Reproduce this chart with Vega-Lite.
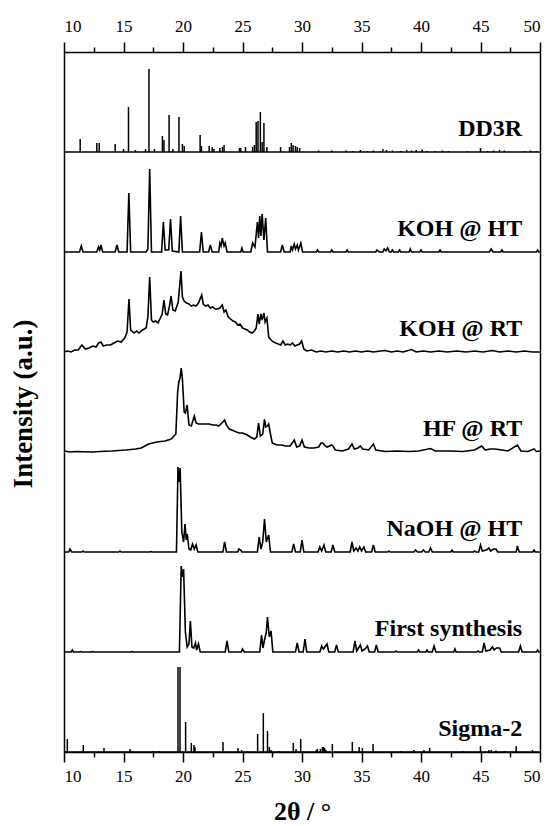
{
"$schema": "https://vega.github.io/schema/vega-lite/v6.json",
"padding": {"left": 9, "top": 17, "right": 0, "bottom": 0},
"config": {"view": {"stroke": null}, "font": "Liberation Serif",
 "axis": {"domainColor": "black", "domainWidth": 1.5, "tickColor": "black", "tickWidth": 1.5, "labelFont": "Liberation Serif", "labelFontSize": 17, "labelColor": "black", "grid": false, "titleFont": "Liberation Serif", "titleFontSize": 26, "titleFontWeight": "bold", "titleColor": "black"}},
"data": {"values": [
{"sample":"DD3R","kind":"label"},{"sample":"KOH @ HT","kind":"label"},{"sample":"KOH @ RT","kind":"label"},{"sample":"HF @ RT","kind":"label"},{"sample":"NaOH @ HT","kind":"label"},{"sample":"First synthesis","kind":"label"},{"sample":"Sigma-2","kind":"label"},
{"sample":"DD3R","kind":"curve","theta":10,"intensity":0},{"sample":"DD3R","kind":"curve","theta":50,"intensity":0},
{"sample":"Sigma-2","kind":"curve","theta":10,"intensity":0},{"sample":"Sigma-2","kind":"curve","theta":50,"intensity":0},
{"sample":"DD3R","kind":"stick","theta":11.36,"intensity":0.13},{"sample":"DD3R","kind":"stick","theta":12.76,"intensity":0.09},{"sample":"DD3R","kind":"stick","theta":12.96,"intensity":0.09},{"sample":"DD3R","kind":"stick","theta":14.3,"intensity":0.08},{"sample":"DD3R","kind":"stick","theta":15.0,"intensity":0.03},{"sample":"DD3R","kind":"stick","theta":15.42,"intensity":0.45},{"sample":"DD3R","kind":"stick","theta":16.0,"intensity":0.02},{"sample":"DD3R","kind":"stick","theta":16.85,"intensity":0.03},{"sample":"DD3R","kind":"stick","theta":17.14,"intensity":0.83},{"sample":"DD3R","kind":"stick","theta":17.6,"intensity":0.03},{"sample":"DD3R","kind":"stick","theta":18.27,"intensity":0.16},{"sample":"DD3R","kind":"stick","theta":18.4,"intensity":0.12},{"sample":"DD3R","kind":"stick","theta":18.83,"intensity":0.37},{"sample":"DD3R","kind":"stick","theta":19.15,"intensity":0.03},{"sample":"DD3R","kind":"stick","theta":19.66,"intensity":0.35},{"sample":"DD3R","kind":"stick","theta":19.95,"intensity":0.08},{"sample":"DD3R","kind":"stick","theta":20.1,"intensity":0.06},{"sample":"DD3R","kind":"stick","theta":21.44,"intensity":0.17},{"sample":"DD3R","kind":"stick","theta":21.55,"intensity":0.06},{"sample":"DD3R","kind":"stick","theta":22.2,"intensity":0.06},{"sample":"DD3R","kind":"stick","theta":22.45,"intensity":0.05},{"sample":"DD3R","kind":"stick","theta":22.6,"intensity":0.03},{"sample":"DD3R","kind":"stick","theta":23.1,"intensity":0.04},{"sample":"DD3R","kind":"stick","theta":23.32,"intensity":0.05},{"sample":"DD3R","kind":"stick","theta":23.45,"intensity":0.07},{"sample":"DD3R","kind":"stick","theta":24.75,"intensity":0.04},{"sample":"DD3R","kind":"stick","theta":24.85,"intensity":0.04},{"sample":"DD3R","kind":"stick","theta":25.25,"intensity":0.05},{"sample":"DD3R","kind":"stick","theta":25.85,"intensity":0.05},{"sample":"DD3R","kind":"stick","theta":26.0,"intensity":0.07},{"sample":"DD3R","kind":"stick","theta":26.15,"intensity":0.30},{"sample":"DD3R","kind":"stick","theta":26.3,"intensity":0.31},{"sample":"DD3R","kind":"stick","theta":26.5,"intensity":0.40},{"sample":"DD3R","kind":"stick","theta":26.65,"intensity":0.10},{"sample":"DD3R","kind":"stick","theta":26.8,"intensity":0.29},{"sample":"DD3R","kind":"stick","theta":27.05,"intensity":0.05},{"sample":"DD3R","kind":"stick","theta":28.2,"intensity":0.05},{"sample":"DD3R","kind":"stick","theta":28.95,"intensity":0.05},{"sample":"DD3R","kind":"stick","theta":29.1,"intensity":0.09},{"sample":"DD3R","kind":"stick","theta":29.25,"intensity":0.07},{"sample":"DD3R","kind":"stick","theta":29.45,"intensity":0.06},{"sample":"DD3R","kind":"stick","theta":29.6,"intensity":0.05},{"sample":"DD3R","kind":"stick","theta":29.8,"intensity":0.04},{"sample":"DD3R","kind":"stick","theta":31.4,"intensity":0.015},{"sample":"DD3R","kind":"stick","theta":32.5,"intensity":0.015},{"sample":"DD3R","kind":"stick","theta":33.7,"intensity":0.015},{"sample":"DD3R","kind":"stick","theta":34.3,"intensity":0.01},{"sample":"DD3R","kind":"stick","theta":34.9,"intensity":0.02},{"sample":"DD3R","kind":"stick","theta":35.5,"intensity":0.01},{"sample":"DD3R","kind":"stick","theta":36.0,"intensity":0.015},{"sample":"DD3R","kind":"stick","theta":36.6,"intensity":0.01},{"sample":"DD3R","kind":"stick","theta":36.8,"intensity":0.03},{"sample":"DD3R","kind":"stick","theta":37.1,"intensity":0.02},{"sample":"DD3R","kind":"stick","theta":37.6,"intensity":0.015},{"sample":"DD3R","kind":"stick","theta":38.3,"intensity":0.01},{"sample":"DD3R","kind":"stick","theta":38.8,"intensity":0.02},{"sample":"DD3R","kind":"stick","theta":39.2,"intensity":0.015},{"sample":"DD3R","kind":"stick","theta":39.6,"intensity":0.02},{"sample":"DD3R","kind":"stick","theta":40.1,"intensity":0.025},{"sample":"DD3R","kind":"stick","theta":40.5,"intensity":0.01},{"sample":"DD3R","kind":"stick","theta":41.2,"intensity":0.01},{"sample":"DD3R","kind":"stick","theta":41.8,"intensity":0.015},{"sample":"DD3R","kind":"stick","theta":42.3,"intensity":0.01},{"sample":"DD3R","kind":"stick","theta":43.9,"intensity":0.01},{"sample":"DD3R","kind":"stick","theta":45.0,"intensity":0.04},{"sample":"DD3R","kind":"stick","theta":45.6,"intensity":0.01},{"sample":"DD3R","kind":"stick","theta":46.1,"intensity":0.015},{"sample":"DD3R","kind":"stick","theta":46.6,"intensity":0.02},{"sample":"DD3R","kind":"stick","theta":47.0,"intensity":0.015},{"sample":"DD3R","kind":"stick","theta":48.7,"intensity":0.01},{"sample":"DD3R","kind":"stick","theta":49.2,"intensity":0.015},{"sample":"DD3R","kind":"stick","theta":49.7,"intensity":0.01},
{"sample":"KOH @ HT","kind":"curve","theta":10.0,"intensity":0},{"sample":"KOH @ HT","kind":"curve","theta":11.3,"intensity":0},{"sample":"KOH @ HT","kind":"curve","theta":11.45,"intensity":0.06},{"sample":"KOH @ HT","kind":"curve","theta":11.6,"intensity":0},{"sample":"KOH @ HT","kind":"curve","theta":12.75,"intensity":0},{"sample":"KOH @ HT","kind":"curve","theta":12.9,"intensity":0.05},{"sample":"KOH @ HT","kind":"curve","theta":13.0,"intensity":0.02},{"sample":"KOH @ HT","kind":"curve","theta":13.1,"intensity":0.07},{"sample":"KOH @ HT","kind":"curve","theta":13.25,"intensity":0},{"sample":"KOH @ HT","kind":"curve","theta":14.3,"intensity":0},{"sample":"KOH @ HT","kind":"curve","theta":14.45,"intensity":0.07},{"sample":"KOH @ HT","kind":"curve","theta":14.6,"intensity":0},{"sample":"KOH @ HT","kind":"curve","theta":15.3,"intensity":0},{"sample":"KOH @ HT","kind":"curve","theta":15.45,"intensity":0.59},{"sample":"KOH @ HT","kind":"curve","theta":15.6,"intensity":0},{"sample":"KOH @ HT","kind":"curve","theta":16.9,"intensity":0},{"sample":"KOH @ HT","kind":"curve","theta":17.05,"intensity":0.03},{"sample":"KOH @ HT","kind":"curve","theta":17.2,"intensity":0.83},{"sample":"KOH @ HT","kind":"curve","theta":17.35,"intensity":0},{"sample":"KOH @ HT","kind":"curve","theta":18.2,"intensity":0},{"sample":"KOH @ HT","kind":"curve","theta":18.35,"intensity":0.30},{"sample":"KOH @ HT","kind":"curve","theta":18.5,"intensity":0.02},{"sample":"KOH @ HT","kind":"curve","theta":18.8,"intensity":0.02},{"sample":"KOH @ HT","kind":"curve","theta":18.95,"intensity":0.33},{"sample":"KOH @ HT","kind":"curve","theta":19.1,"intensity":0.01},{"sample":"KOH @ HT","kind":"curve","theta":19.65,"intensity":0},{"sample":"KOH @ HT","kind":"curve","theta":19.8,"intensity":0.36},{"sample":"KOH @ HT","kind":"curve","theta":19.95,"intensity":0},{"sample":"KOH @ HT","kind":"curve","theta":21.4,"intensity":0},{"sample":"KOH @ HT","kind":"curve","theta":21.55,"intensity":0.20},{"sample":"KOH @ HT","kind":"curve","theta":21.7,"intensity":0},{"sample":"KOH @ HT","kind":"curve","theta":22.15,"intensity":0},{"sample":"KOH @ HT","kind":"curve","theta":22.3,"intensity":0.07},{"sample":"KOH @ HT","kind":"curve","theta":22.45,"intensity":0},{"sample":"KOH @ HT","kind":"curve","theta":23.0,"intensity":0},{"sample":"KOH @ HT","kind":"curve","theta":23.1,"intensity":0.09},{"sample":"KOH @ HT","kind":"curve","theta":23.2,"intensity":0.06},{"sample":"KOH @ HT","kind":"curve","theta":23.3,"intensity":0.14},{"sample":"KOH @ HT","kind":"curve","theta":23.45,"intensity":0.06},{"sample":"KOH @ HT","kind":"curve","theta":23.55,"intensity":0.09},{"sample":"KOH @ HT","kind":"curve","theta":23.7,"intensity":0},{"sample":"KOH @ HT","kind":"curve","theta":24.85,"intensity":0},{"sample":"KOH @ HT","kind":"curve","theta":24.95,"intensity":0.04},{"sample":"KOH @ HT","kind":"curve","theta":25.05,"intensity":0},{"sample":"KOH @ HT","kind":"curve","theta":25.7,"intensity":0},{"sample":"KOH @ HT","kind":"curve","theta":25.85,"intensity":0.09},{"sample":"KOH @ HT","kind":"curve","theta":26.05,"intensity":0.05},{"sample":"KOH @ HT","kind":"curve","theta":26.25,"intensity":0.30},{"sample":"KOH @ HT","kind":"curve","theta":26.35,"intensity":0.14},{"sample":"KOH @ HT","kind":"curve","theta":26.45,"intensity":0.36},{"sample":"KOH @ HT","kind":"curve","theta":26.55,"intensity":0.16},{"sample":"KOH @ HT","kind":"curve","theta":26.65,"intensity":0.38},{"sample":"KOH @ HT","kind":"curve","theta":26.8,"intensity":0.12},{"sample":"KOH @ HT","kind":"curve","theta":26.95,"intensity":0.34},{"sample":"KOH @ HT","kind":"curve","theta":27.1,"intensity":0},{"sample":"KOH @ HT","kind":"curve","theta":28.2,"intensity":0},{"sample":"KOH @ HT","kind":"curve","theta":28.35,"intensity":0.07},{"sample":"KOH @ HT","kind":"curve","theta":28.5,"intensity":0},{"sample":"KOH @ HT","kind":"curve","theta":29.0,"intensity":0},{"sample":"KOH @ HT","kind":"curve","theta":29.1,"intensity":0.06},{"sample":"KOH @ HT","kind":"curve","theta":29.2,"intensity":0.02},{"sample":"KOH @ HT","kind":"curve","theta":29.35,"intensity":0.08},{"sample":"KOH @ HT","kind":"curve","theta":29.45,"intensity":0.03},{"sample":"KOH @ HT","kind":"curve","theta":29.6,"intensity":0.07},{"sample":"KOH @ HT","kind":"curve","theta":29.7,"intensity":0.02},{"sample":"KOH @ HT","kind":"curve","theta":29.9,"intensity":0.09},{"sample":"KOH @ HT","kind":"curve","theta":30.05,"intensity":0},{"sample":"KOH @ HT","kind":"curve","theta":31.2,"intensity":0},{"sample":"KOH @ HT","kind":"curve","theta":31.3,"intensity":0.02},{"sample":"KOH @ HT","kind":"curve","theta":31.4,"intensity":0},{"sample":"KOH @ HT","kind":"curve","theta":32.4,"intensity":0},{"sample":"KOH @ HT","kind":"curve","theta":32.5,"intensity":0.02},{"sample":"KOH @ HT","kind":"curve","theta":32.6,"intensity":0},{"sample":"KOH @ HT","kind":"curve","theta":33.7,"intensity":0},{"sample":"KOH @ HT","kind":"curve","theta":33.8,"intensity":0.02},{"sample":"KOH @ HT","kind":"curve","theta":33.9,"intensity":0},{"sample":"KOH @ HT","kind":"curve","theta":36.2,"intensity":0},{"sample":"KOH @ HT","kind":"curve","theta":36.3,"intensity":0.02},{"sample":"KOH @ HT","kind":"curve","theta":36.5,"intensity":0},{"sample":"KOH @ HT","kind":"curve","theta":36.8,"intensity":0},{"sample":"KOH @ HT","kind":"curve","theta":36.9,"intensity":0.03},{"sample":"KOH @ HT","kind":"curve","theta":37.05,"intensity":0.01},{"sample":"KOH @ HT","kind":"curve","theta":37.2,"intensity":0.04},{"sample":"KOH @ HT","kind":"curve","theta":37.35,"intensity":0},{"sample":"KOH @ HT","kind":"curve","theta":37.5,"intensity":0},{"sample":"KOH @ HT","kind":"curve","theta":37.6,"intensity":0.02},{"sample":"KOH @ HT","kind":"curve","theta":37.7,"intensity":0},{"sample":"KOH @ HT","kind":"curve","theta":38.1,"intensity":0},{"sample":"KOH @ HT","kind":"curve","theta":38.2,"intensity":0.02},{"sample":"KOH @ HT","kind":"curve","theta":38.3,"intensity":0},{"sample":"KOH @ HT","kind":"curve","theta":39.0,"intensity":0},{"sample":"KOH @ HT","kind":"curve","theta":39.1,"intensity":0.03},{"sample":"KOH @ HT","kind":"curve","theta":39.2,"intensity":0},{"sample":"KOH @ HT","kind":"curve","theta":39.9,"intensity":0},{"sample":"KOH @ HT","kind":"curve","theta":40.0,"intensity":0.02},{"sample":"KOH @ HT","kind":"curve","theta":40.1,"intensity":0},{"sample":"KOH @ HT","kind":"curve","theta":41.5,"intensity":0},{"sample":"KOH @ HT","kind":"curve","theta":41.6,"intensity":0.02},{"sample":"KOH @ HT","kind":"curve","theta":41.7,"intensity":0},{"sample":"KOH @ HT","kind":"curve","theta":45.75,"intensity":0},{"sample":"KOH @ HT","kind":"curve","theta":45.9,"intensity":0.03},{"sample":"KOH @ HT","kind":"curve","theta":46.05,"intensity":0},{"sample":"KOH @ HT","kind":"curve","theta":46.7,"intensity":0},{"sample":"KOH @ HT","kind":"curve","theta":46.8,"intensity":0.02},{"sample":"KOH @ HT","kind":"curve","theta":46.9,"intensity":0},{"sample":"KOH @ HT","kind":"curve","theta":49.7,"intensity":0},{"sample":"KOH @ HT","kind":"curve","theta":49.8,"intensity":0.02},{"sample":"KOH @ HT","kind":"curve","theta":49.9,"intensity":0},{"sample":"KOH @ HT","kind":"curve","theta":50.0,"intensity":0},
{"sample":"KOH @ RT","kind":"curve","theta":10.0,"intensity":0.0},{"sample":"KOH @ RT","kind":"curve","theta":10.3,"intensity":0.01},{"sample":"KOH @ RT","kind":"curve","theta":10.6,"intensity":0.0},{"sample":"KOH @ RT","kind":"curve","theta":10.9,"intensity":0.02},{"sample":"KOH @ RT","kind":"curve","theta":11.2,"intensity":0.02},{"sample":"KOH @ RT","kind":"curve","theta":11.5,"intensity":0.07},{"sample":"KOH @ RT","kind":"curve","theta":11.8,"intensity":0.03},{"sample":"KOH @ RT","kind":"curve","theta":12.1,"intensity":0.04},{"sample":"KOH @ RT","kind":"curve","theta":12.4,"intensity":0.06},{"sample":"KOH @ RT","kind":"curve","theta":12.7,"intensity":0.05},{"sample":"KOH @ RT","kind":"curve","theta":12.9,"intensity":0.09},{"sample":"KOH @ RT","kind":"curve","theta":13.1,"intensity":0.1},{"sample":"KOH @ RT","kind":"curve","theta":13.3,"intensity":0.06},{"sample":"KOH @ RT","kind":"curve","theta":13.6,"intensity":0.07},{"sample":"KOH @ RT","kind":"curve","theta":13.9,"intensity":0.07},{"sample":"KOH @ RT","kind":"curve","theta":14.2,"intensity":0.09},{"sample":"KOH @ RT","kind":"curve","theta":14.5,"intensity":0.11},{"sample":"KOH @ RT","kind":"curve","theta":14.8,"intensity":0.1},{"sample":"KOH @ RT","kind":"curve","theta":15.1,"intensity":0.14},{"sample":"KOH @ RT","kind":"curve","theta":15.3,"intensity":0.2},{"sample":"KOH @ RT","kind":"curve","theta":15.46,"intensity":0.53},{"sample":"KOH @ RT","kind":"curve","theta":15.6,"intensity":0.22},{"sample":"KOH @ RT","kind":"curve","theta":15.9,"intensity":0.19},{"sample":"KOH @ RT","kind":"curve","theta":16.1,"intensity":0.21},{"sample":"KOH @ RT","kind":"curve","theta":16.3,"intensity":0.19},{"sample":"KOH @ RT","kind":"curve","theta":16.6,"intensity":0.22},{"sample":"KOH @ RT","kind":"curve","theta":16.9,"intensity":0.24},{"sample":"KOH @ RT","kind":"curve","theta":17.05,"intensity":0.35},{"sample":"KOH @ RT","kind":"curve","theta":17.2,"intensity":0.75},{"sample":"KOH @ RT","kind":"curve","theta":17.35,"intensity":0.32},{"sample":"KOH @ RT","kind":"curve","theta":17.5,"intensity":0.3},{"sample":"KOH @ RT","kind":"curve","theta":17.7,"intensity":0.31},{"sample":"KOH @ RT","kind":"curve","theta":17.9,"intensity":0.29},{"sample":"KOH @ RT","kind":"curve","theta":18.1,"intensity":0.34},{"sample":"KOH @ RT","kind":"curve","theta":18.25,"intensity":0.38},{"sample":"KOH @ RT","kind":"curve","theta":18.4,"intensity":0.52},{"sample":"KOH @ RT","kind":"curve","theta":18.55,"intensity":0.38},{"sample":"KOH @ RT","kind":"curve","theta":18.7,"intensity":0.37},{"sample":"KOH @ RT","kind":"curve","theta":18.85,"intensity":0.45},{"sample":"KOH @ RT","kind":"curve","theta":19.0,"intensity":0.56},{"sample":"KOH @ RT","kind":"curve","theta":19.15,"intensity":0.42},{"sample":"KOH @ RT","kind":"curve","theta":19.35,"intensity":0.41},{"sample":"KOH @ RT","kind":"curve","theta":19.6,"intensity":0.5},{"sample":"KOH @ RT","kind":"curve","theta":19.83,"intensity":0.81},{"sample":"KOH @ RT","kind":"curve","theta":19.95,"intensity":0.55},{"sample":"KOH @ RT","kind":"curve","theta":20.1,"intensity":0.51},{"sample":"KOH @ RT","kind":"curve","theta":20.3,"intensity":0.49},{"sample":"KOH @ RT","kind":"curve","theta":20.5,"intensity":0.48},{"sample":"KOH @ RT","kind":"curve","theta":20.7,"intensity":0.46},{"sample":"KOH @ RT","kind":"curve","theta":20.9,"intensity":0.47},{"sample":"KOH @ RT","kind":"curve","theta":21.1,"intensity":0.46},{"sample":"KOH @ RT","kind":"curve","theta":21.3,"intensity":0.49},{"sample":"KOH @ RT","kind":"curve","theta":21.57,"intensity":0.57},{"sample":"KOH @ RT","kind":"curve","theta":21.7,"intensity":0.48},{"sample":"KOH @ RT","kind":"curve","theta":21.9,"intensity":0.46},{"sample":"KOH @ RT","kind":"curve","theta":22.1,"intensity":0.47},{"sample":"KOH @ RT","kind":"curve","theta":22.3,"intensity":0.44},{"sample":"KOH @ RT","kind":"curve","theta":22.5,"intensity":0.45},{"sample":"KOH @ RT","kind":"curve","theta":22.7,"intensity":0.43},{"sample":"KOH @ RT","kind":"curve","theta":22.9,"intensity":0.43},{"sample":"KOH @ RT","kind":"curve","theta":23.1,"intensity":0.44},{"sample":"KOH @ RT","kind":"curve","theta":23.3,"intensity":0.47},{"sample":"KOH @ RT","kind":"curve","theta":23.45,"intensity":0.4},{"sample":"KOH @ RT","kind":"curve","theta":23.6,"intensity":0.42},{"sample":"KOH @ RT","kind":"curve","theta":23.8,"intensity":0.35},{"sample":"KOH @ RT","kind":"curve","theta":24.0,"intensity":0.33},{"sample":"KOH @ RT","kind":"curve","theta":24.2,"intensity":0.31},{"sample":"KOH @ RT","kind":"curve","theta":24.4,"intensity":0.3},{"sample":"KOH @ RT","kind":"curve","theta":24.6,"intensity":0.27},{"sample":"KOH @ RT","kind":"curve","theta":24.8,"intensity":0.28},{"sample":"KOH @ RT","kind":"curve","theta":25.0,"intensity":0.24},{"sample":"KOH @ RT","kind":"curve","theta":25.2,"intensity":0.23},{"sample":"KOH @ RT","kind":"curve","theta":25.4,"intensity":0.22},{"sample":"KOH @ RT","kind":"curve","theta":25.6,"intensity":0.2},{"sample":"KOH @ RT","kind":"curve","theta":25.8,"intensity":0.19},{"sample":"KOH @ RT","kind":"curve","theta":26.0,"intensity":0.21},{"sample":"KOH @ RT","kind":"curve","theta":26.15,"intensity":0.24},{"sample":"KOH @ RT","kind":"curve","theta":26.3,"intensity":0.38},{"sample":"KOH @ RT","kind":"curve","theta":26.4,"intensity":0.28},{"sample":"KOH @ RT","kind":"curve","theta":26.55,"intensity":0.38},{"sample":"KOH @ RT","kind":"curve","theta":26.65,"intensity":0.32},{"sample":"KOH @ RT","kind":"curve","theta":26.8,"intensity":0.39},{"sample":"KOH @ RT","kind":"curve","theta":26.9,"intensity":0.3},{"sample":"KOH @ RT","kind":"curve","theta":27.05,"intensity":0.34},{"sample":"KOH @ RT","kind":"curve","theta":27.2,"intensity":0.15},{"sample":"KOH @ RT","kind":"curve","theta":27.4,"intensity":0.12},{"sample":"KOH @ RT","kind":"curve","theta":27.6,"intensity":0.1},{"sample":"KOH @ RT","kind":"curve","theta":27.8,"intensity":0.09},{"sample":"KOH @ RT","kind":"curve","theta":28.0,"intensity":0.08},{"sample":"KOH @ RT","kind":"curve","theta":28.2,"intensity":0.07},{"sample":"KOH @ RT","kind":"curve","theta":28.4,"intensity":0.11},{"sample":"KOH @ RT","kind":"curve","theta":28.6,"intensity":0.07},{"sample":"KOH @ RT","kind":"curve","theta":28.8,"intensity":0.08},{"sample":"KOH @ RT","kind":"curve","theta":29.0,"intensity":0.07},{"sample":"KOH @ RT","kind":"curve","theta":29.2,"intensity":0.09},{"sample":"KOH @ RT","kind":"curve","theta":29.4,"intensity":0.06},{"sample":"KOH @ RT","kind":"curve","theta":29.6,"intensity":0.07},{"sample":"KOH @ RT","kind":"curve","theta":29.8,"intensity":0.08},{"sample":"KOH @ RT","kind":"curve","theta":29.97,"intensity":0.11},{"sample":"KOH @ RT","kind":"curve","theta":30.15,"intensity":0.03},{"sample":"KOH @ RT","kind":"curve","theta":30.4,"intensity":0.01},{"sample":"KOH @ RT","kind":"curve","theta":30.8,"intensity":0.02},{"sample":"KOH @ RT","kind":"curve","theta":31.2,"intensity":0.0},{"sample":"KOH @ RT","kind":"curve","theta":31.6,"intensity":0.01},{"sample":"KOH @ RT","kind":"curve","theta":32.0,"intensity":0.0},{"sample":"KOH @ RT","kind":"curve","theta":32.5,"intensity":0.01},{"sample":"KOH @ RT","kind":"curve","theta":33.0,"intensity":0.0},{"sample":"KOH @ RT","kind":"curve","theta":33.5,"intensity":0.01},{"sample":"KOH @ RT","kind":"curve","theta":34.0,"intensity":0.0},{"sample":"KOH @ RT","kind":"curve","theta":34.5,"intensity":0.01},{"sample":"KOH @ RT","kind":"curve","theta":35.0,"intensity":0.0},{"sample":"KOH @ RT","kind":"curve","theta":35.5,"intensity":0.01},{"sample":"KOH @ RT","kind":"curve","theta":36.0,"intensity":0.0},{"sample":"KOH @ RT","kind":"curve","theta":36.6,"intensity":0.01},{"sample":"KOH @ RT","kind":"curve","theta":37.0,"intensity":0.015},{"sample":"KOH @ RT","kind":"curve","theta":37.5,"intensity":0.0},{"sample":"KOH @ RT","kind":"curve","theta":38.0,"intensity":0.01},{"sample":"KOH @ RT","kind":"curve","theta":38.5,"intensity":0.0},{"sample":"KOH @ RT","kind":"curve","theta":39.2,"intensity":0.025},{"sample":"KOH @ RT","kind":"curve","theta":39.6,"intensity":0.0},{"sample":"KOH @ RT","kind":"curve","theta":40.2,"intensity":0.01},{"sample":"KOH @ RT","kind":"curve","theta":40.8,"intensity":0.0},{"sample":"KOH @ RT","kind":"curve","theta":41.5,"intensity":0.01},{"sample":"KOH @ RT","kind":"curve","theta":42.2,"intensity":0.0},{"sample":"KOH @ RT","kind":"curve","theta":43.0,"intensity":0.01},{"sample":"KOH @ RT","kind":"curve","theta":43.8,"intensity":0.0},{"sample":"KOH @ RT","kind":"curve","theta":44.5,"intensity":0.01},{"sample":"KOH @ RT","kind":"curve","theta":45.2,"intensity":0.0},{"sample":"KOH @ RT","kind":"curve","theta":46.0,"intensity":0.015},{"sample":"KOH @ RT","kind":"curve","theta":46.6,"intensity":0.0},{"sample":"KOH @ RT","kind":"curve","theta":47.3,"intensity":0.01},{"sample":"KOH @ RT","kind":"curve","theta":48.0,"intensity":0.0},{"sample":"KOH @ RT","kind":"curve","theta":48.7,"intensity":0.01},{"sample":"KOH @ RT","kind":"curve","theta":49.4,"intensity":0.0},{"sample":"KOH @ RT","kind":"curve","theta":50.0,"intensity":0.0},
{"sample":"HF @ RT","kind":"curve","theta":10.0,"intensity":0.01},{"sample":"HF @ RT","kind":"curve","theta":10.5,"intensity":0.0},{"sample":"HF @ RT","kind":"curve","theta":11.0,"intensity":0.005},{"sample":"HF @ RT","kind":"curve","theta":12.4,"intensity":0.0},{"sample":"HF @ RT","kind":"curve","theta":13.0,"intensity":0.005},{"sample":"HF @ RT","kind":"curve","theta":14.0,"intensity":0.01},{"sample":"HF @ RT","kind":"curve","theta":15.2,"intensity":0.02},{"sample":"HF @ RT","kind":"curve","theta":16.0,"intensity":0.03},{"sample":"HF @ RT","kind":"curve","theta":16.5,"intensity":0.04},{"sample":"HF @ RT","kind":"curve","theta":17.1,"intensity":0.08},{"sample":"HF @ RT","kind":"curve","theta":17.8,"intensity":0.1},{"sample":"HF @ RT","kind":"curve","theta":18.5,"intensity":0.11},{"sample":"HF @ RT","kind":"curve","theta":19.0,"intensity":0.13},{"sample":"HF @ RT","kind":"curve","theta":19.4,"intensity":0.18},{"sample":"HF @ RT","kind":"curve","theta":19.55,"intensity":0.6},{"sample":"HF @ RT","kind":"curve","theta":19.65,"intensity":0.7},{"sample":"HF @ RT","kind":"curve","theta":19.75,"intensity":0.74},{"sample":"HF @ RT","kind":"curve","theta":19.85,"intensity":0.84},{"sample":"HF @ RT","kind":"curve","theta":19.95,"intensity":0.73},{"sample":"HF @ RT","kind":"curve","theta":20.1,"intensity":0.4},{"sample":"HF @ RT","kind":"curve","theta":20.2,"intensity":0.39},{"sample":"HF @ RT","kind":"curve","theta":20.35,"intensity":0.47},{"sample":"HF @ RT","kind":"curve","theta":20.5,"intensity":0.27},{"sample":"HF @ RT","kind":"curve","theta":20.7,"intensity":0.26},{"sample":"HF @ RT","kind":"curve","theta":20.95,"intensity":0.36},{"sample":"HF @ RT","kind":"curve","theta":21.1,"intensity":0.29},{"sample":"HF @ RT","kind":"curve","theta":21.3,"intensity":0.28},{"sample":"HF @ RT","kind":"curve","theta":21.6,"intensity":0.28},{"sample":"HF @ RT","kind":"curve","theta":21.9,"intensity":0.28},{"sample":"HF @ RT","kind":"curve","theta":22.2,"intensity":0.28},{"sample":"HF @ RT","kind":"curve","theta":22.5,"intensity":0.27},{"sample":"HF @ RT","kind":"curve","theta":22.8,"intensity":0.27},{"sample":"HF @ RT","kind":"curve","theta":23.0,"intensity":0.26},{"sample":"HF @ RT","kind":"curve","theta":23.35,"intensity":0.3},{"sample":"HF @ RT","kind":"curve","theta":23.5,"intensity":0.32},{"sample":"HF @ RT","kind":"curve","theta":23.65,"intensity":0.27},{"sample":"HF @ RT","kind":"curve","theta":23.9,"intensity":0.23},{"sample":"HF @ RT","kind":"curve","theta":24.3,"intensity":0.21},{"sample":"HF @ RT","kind":"curve","theta":24.7,"intensity":0.19},{"sample":"HF @ RT","kind":"curve","theta":25.0,"intensity":0.19},{"sample":"HF @ RT","kind":"curve","theta":25.4,"intensity":0.17},{"sample":"HF @ RT","kind":"curve","theta":25.8,"intensity":0.14},{"sample":"HF @ RT","kind":"curve","theta":26.0,"intensity":0.13},{"sample":"HF @ RT","kind":"curve","theta":26.2,"intensity":0.15},{"sample":"HF @ RT","kind":"curve","theta":26.35,"intensity":0.29},{"sample":"HF @ RT","kind":"curve","theta":26.5,"intensity":0.16},{"sample":"HF @ RT","kind":"curve","theta":26.7,"intensity":0.18},{"sample":"HF @ RT","kind":"curve","theta":26.85,"intensity":0.33},{"sample":"HF @ RT","kind":"curve","theta":26.95,"intensity":0.25},{"sample":"HF @ RT","kind":"curve","theta":27.1,"intensity":0.26},{"sample":"HF @ RT","kind":"curve","theta":27.2,"intensity":0.28},{"sample":"HF @ RT","kind":"curve","theta":27.35,"intensity":0.18},{"sample":"HF @ RT","kind":"curve","theta":27.5,"intensity":0.09},{"sample":"HF @ RT","kind":"curve","theta":27.9,"intensity":0.07},{"sample":"HF @ RT","kind":"curve","theta":28.3,"intensity":0.07},{"sample":"HF @ RT","kind":"curve","theta":28.6,"intensity":0.06},{"sample":"HF @ RT","kind":"curve","theta":29.0,"intensity":0.06},{"sample":"HF @ RT","kind":"curve","theta":29.35,"intensity":0.12},{"sample":"HF @ RT","kind":"curve","theta":29.55,"intensity":0.05},{"sample":"HF @ RT","kind":"curve","theta":29.8,"intensity":0.06},{"sample":"HF @ RT","kind":"curve","theta":30.0,"intensity":0.12},{"sample":"HF @ RT","kind":"curve","theta":30.2,"intensity":0.05},{"sample":"HF @ RT","kind":"curve","theta":30.6,"intensity":0.04},{"sample":"HF @ RT","kind":"curve","theta":31.0,"intensity":0.04},{"sample":"HF @ RT","kind":"curve","theta":31.4,"intensity":0.05},{"sample":"HF @ RT","kind":"curve","theta":31.6,"intensity":0.09},{"sample":"HF @ RT","kind":"curve","theta":31.75,"intensity":0.09},{"sample":"HF @ RT","kind":"curve","theta":31.95,"intensity":0.06},{"sample":"HF @ RT","kind":"curve","theta":32.1,"intensity":0.05},{"sample":"HF @ RT","kind":"curve","theta":32.5,"intensity":0.07},{"sample":"HF @ RT","kind":"curve","theta":32.6,"intensity":0.06},{"sample":"HF @ RT","kind":"curve","theta":32.8,"intensity":0.02},{"sample":"HF @ RT","kind":"curve","theta":33.4,"intensity":0.01},{"sample":"HF @ RT","kind":"curve","theta":33.9,"intensity":0.03},{"sample":"HF @ RT","kind":"curve","theta":34.2,"intensity":0.08},{"sample":"HF @ RT","kind":"curve","theta":34.4,"intensity":0.03},{"sample":"HF @ RT","kind":"curve","theta":34.7,"intensity":0.04},{"sample":"HF @ RT","kind":"curve","theta":34.9,"intensity":0.06},{"sample":"HF @ RT","kind":"curve","theta":35.1,"intensity":0.03},{"sample":"HF @ RT","kind":"curve","theta":35.6,"intensity":0.02},{"sample":"HF @ RT","kind":"curve","theta":36.0,"intensity":0.08},{"sample":"HF @ RT","kind":"curve","theta":36.2,"intensity":0.02},{"sample":"HF @ RT","kind":"curve","theta":37.0,"intensity":0.005},{"sample":"HF @ RT","kind":"curve","theta":38.0,"intensity":0.01},{"sample":"HF @ RT","kind":"curve","theta":39.0,"intensity":0.005},{"sample":"HF @ RT","kind":"curve","theta":39.8,"intensity":0.01},{"sample":"HF @ RT","kind":"curve","theta":40.8,"intensity":0.035},{"sample":"HF @ RT","kind":"curve","theta":41.2,"intensity":0.01},{"sample":"HF @ RT","kind":"curve","theta":42.5,"intensity":0.01},{"sample":"HF @ RT","kind":"curve","theta":43.5,"intensity":0.005},{"sample":"HF @ RT","kind":"curve","theta":44.5,"intensity":0.02},{"sample":"HF @ RT","kind":"curve","theta":45.1,"intensity":0.06},{"sample":"HF @ RT","kind":"curve","theta":45.4,"intensity":0.02},{"sample":"HF @ RT","kind":"curve","theta":45.8,"intensity":0.03},{"sample":"HF @ RT","kind":"curve","theta":46.2,"intensity":0.03},{"sample":"HF @ RT","kind":"curve","theta":46.8,"intensity":0.02},{"sample":"HF @ RT","kind":"curve","theta":47.3,"intensity":0.01},{"sample":"HF @ RT","kind":"curve","theta":48.1,"intensity":0.07},{"sample":"HF @ RT","kind":"curve","theta":48.4,"intensity":0.01},{"sample":"HF @ RT","kind":"curve","theta":49.0,"intensity":0.005},{"sample":"HF @ RT","kind":"curve","theta":49.5,"intensity":0.03},{"sample":"HF @ RT","kind":"curve","theta":49.7,"intensity":0.005},{"sample":"HF @ RT","kind":"curve","theta":50.0,"intensity":0.01},
{"sample":"NaOH @ HT","kind":"curve","theta":10.0,"intensity":0},{"sample":"NaOH @ HT","kind":"curve","theta":10.4,"intensity":0},{"sample":"NaOH @ HT","kind":"curve","theta":10.5,"intensity":0.03},{"sample":"NaOH @ HT","kind":"curve","theta":10.65,"intensity":0},{"sample":"NaOH @ HT","kind":"curve","theta":11.5,"intensity":0},{"sample":"NaOH @ HT","kind":"curve","theta":11.6,"intensity":0.01},{"sample":"NaOH @ HT","kind":"curve","theta":11.7,"intensity":0},{"sample":"NaOH @ HT","kind":"curve","theta":14.6,"intensity":0},{"sample":"NaOH @ HT","kind":"curve","theta":14.7,"intensity":0.01},{"sample":"NaOH @ HT","kind":"curve","theta":14.8,"intensity":0},{"sample":"NaOH @ HT","kind":"curve","theta":17.2,"intensity":0},{"sample":"NaOH @ HT","kind":"curve","theta":17.3,"intensity":0.005},{"sample":"NaOH @ HT","kind":"curve","theta":17.4,"intensity":0},{"sample":"NaOH @ HT","kind":"curve","theta":19.45,"intensity":0},{"sample":"NaOH @ HT","kind":"curve","theta":19.58,"intensity":0.85},{"sample":"NaOH @ HT","kind":"curve","theta":19.66,"intensity":0.7},{"sample":"NaOH @ HT","kind":"curve","theta":19.76,"intensity":0.84},{"sample":"NaOH @ HT","kind":"curve","theta":19.9,"intensity":0.2},{"sample":"NaOH @ HT","kind":"curve","theta":20.05,"intensity":0.1},{"sample":"NaOH @ HT","kind":"curve","theta":20.17,"intensity":0.28},{"sample":"NaOH @ HT","kind":"curve","theta":20.27,"intensity":0.12},{"sample":"NaOH @ HT","kind":"curve","theta":20.36,"intensity":0.18},{"sample":"NaOH @ HT","kind":"curve","theta":20.5,"intensity":0.03},{"sample":"NaOH @ HT","kind":"curve","theta":20.65,"intensity":0.02},{"sample":"NaOH @ HT","kind":"curve","theta":20.8,"intensity":0.08},{"sample":"NaOH @ HT","kind":"curve","theta":20.95,"intensity":0.03},{"sample":"NaOH @ HT","kind":"curve","theta":21.1,"intensity":0.07},{"sample":"NaOH @ HT","kind":"curve","theta":21.25,"intensity":0},{"sample":"NaOH @ HT","kind":"curve","theta":23.35,"intensity":0},{"sample":"NaOH @ HT","kind":"curve","theta":23.5,"intensity":0.1},{"sample":"NaOH @ HT","kind":"curve","theta":23.65,"intensity":0},{"sample":"NaOH @ HT","kind":"curve","theta":24.6,"intensity":0},{"sample":"NaOH @ HT","kind":"curve","theta":24.7,"intensity":0.03},{"sample":"NaOH @ HT","kind":"curve","theta":24.85,"intensity":0.02},{"sample":"NaOH @ HT","kind":"curve","theta":24.95,"intensity":0},{"sample":"NaOH @ HT","kind":"curve","theta":26.25,"intensity":0},{"sample":"NaOH @ HT","kind":"curve","theta":26.4,"intensity":0.15},{"sample":"NaOH @ HT","kind":"curve","theta":26.55,"intensity":0.03},{"sample":"NaOH @ HT","kind":"curve","theta":26.7,"intensity":0.1},{"sample":"NaOH @ HT","kind":"curve","theta":26.85,"intensity":0.33},{"sample":"NaOH @ HT","kind":"curve","theta":27.0,"intensity":0.1},{"sample":"NaOH @ HT","kind":"curve","theta":27.2,"intensity":0.17},{"sample":"NaOH @ HT","kind":"curve","theta":27.35,"intensity":0},{"sample":"NaOH @ HT","kind":"curve","theta":29.15,"intensity":0},{"sample":"NaOH @ HT","kind":"curve","theta":29.3,"intensity":0.08},{"sample":"NaOH @ HT","kind":"curve","theta":29.45,"intensity":0},{"sample":"NaOH @ HT","kind":"curve","theta":29.85,"intensity":0},{"sample":"NaOH @ HT","kind":"curve","theta":30.0,"intensity":0.12},{"sample":"NaOH @ HT","kind":"curve","theta":30.15,"intensity":0},{"sample":"NaOH @ HT","kind":"curve","theta":31.35,"intensity":0},{"sample":"NaOH @ HT","kind":"curve","theta":31.5,"intensity":0.05},{"sample":"NaOH @ HT","kind":"curve","theta":31.65,"intensity":0.01},{"sample":"NaOH @ HT","kind":"curve","theta":31.85,"intensity":0.07},{"sample":"NaOH @ HT","kind":"curve","theta":32.0,"intensity":0},{"sample":"NaOH @ HT","kind":"curve","theta":32.45,"intensity":0},{"sample":"NaOH @ HT","kind":"curve","theta":32.6,"intensity":0.07},{"sample":"NaOH @ HT","kind":"curve","theta":32.75,"intensity":0},{"sample":"NaOH @ HT","kind":"curve","theta":34.05,"intensity":0},{"sample":"NaOH @ HT","kind":"curve","theta":34.2,"intensity":0.1},{"sample":"NaOH @ HT","kind":"curve","theta":34.35,"intensity":0.01},{"sample":"NaOH @ HT","kind":"curve","theta":34.55,"intensity":0.04},{"sample":"NaOH @ HT","kind":"curve","theta":34.7,"intensity":0.01},{"sample":"NaOH @ HT","kind":"curve","theta":34.85,"intensity":0.05},{"sample":"NaOH @ HT","kind":"curve","theta":35.0,"intensity":0.01},{"sample":"NaOH @ HT","kind":"curve","theta":35.2,"intensity":0.05},{"sample":"NaOH @ HT","kind":"curve","theta":35.35,"intensity":0},{"sample":"NaOH @ HT","kind":"curve","theta":35.85,"intensity":0},{"sample":"NaOH @ HT","kind":"curve","theta":36.0,"intensity":0.07},{"sample":"NaOH @ HT","kind":"curve","theta":36.15,"intensity":0},{"sample":"NaOH @ HT","kind":"curve","theta":37.2,"intensity":0},{"sample":"NaOH @ HT","kind":"curve","theta":37.3,"intensity":0.01},{"sample":"NaOH @ HT","kind":"curve","theta":37.4,"intensity":0},{"sample":"NaOH @ HT","kind":"curve","theta":39.4,"intensity":0},{"sample":"NaOH @ HT","kind":"curve","theta":39.55,"intensity":0.02},{"sample":"NaOH @ HT","kind":"curve","theta":39.7,"intensity":0},{"sample":"NaOH @ HT","kind":"curve","theta":40.05,"intensity":0},{"sample":"NaOH @ HT","kind":"curve","theta":40.2,"intensity":0.02},{"sample":"NaOH @ HT","kind":"curve","theta":40.35,"intensity":0},{"sample":"NaOH @ HT","kind":"curve","theta":40.65,"intensity":0},{"sample":"NaOH @ HT","kind":"curve","theta":40.8,"intensity":0.04},{"sample":"NaOH @ HT","kind":"curve","theta":40.95,"intensity":0},{"sample":"NaOH @ HT","kind":"curve","theta":42.5,"intensity":0},{"sample":"NaOH @ HT","kind":"curve","theta":42.6,"intensity":0.02},{"sample":"NaOH @ HT","kind":"curve","theta":42.7,"intensity":0},{"sample":"NaOH @ HT","kind":"curve","theta":44.4,"intensity":0},{"sample":"NaOH @ HT","kind":"curve","theta":44.5,"intensity":0.01},{"sample":"NaOH @ HT","kind":"curve","theta":44.6,"intensity":0},{"sample":"NaOH @ HT","kind":"curve","theta":44.85,"intensity":0},{"sample":"NaOH @ HT","kind":"curve","theta":45.0,"intensity":0.07},{"sample":"NaOH @ HT","kind":"curve","theta":45.15,"intensity":0.01},{"sample":"NaOH @ HT","kind":"curve","theta":45.5,"intensity":0.02},{"sample":"NaOH @ HT","kind":"curve","theta":45.7,"intensity":0.04},{"sample":"NaOH @ HT","kind":"curve","theta":45.85,"intensity":0.01},{"sample":"NaOH @ HT","kind":"curve","theta":46.1,"intensity":0.03},{"sample":"NaOH @ HT","kind":"curve","theta":46.3,"intensity":0.03},{"sample":"NaOH @ HT","kind":"curve","theta":46.45,"intensity":0},{"sample":"NaOH @ HT","kind":"curve","theta":48.0,"intensity":0},{"sample":"NaOH @ HT","kind":"curve","theta":48.1,"intensity":0.06},{"sample":"NaOH @ HT","kind":"curve","theta":48.25,"intensity":0},{"sample":"NaOH @ HT","kind":"curve","theta":49.4,"intensity":0},{"sample":"NaOH @ HT","kind":"curve","theta":49.5,"intensity":0.02},{"sample":"NaOH @ HT","kind":"curve","theta":49.6,"intensity":0},{"sample":"NaOH @ HT","kind":"curve","theta":50.0,"intensity":0},
{"sample":"First synthesis","kind":"curve","theta":10.0,"intensity":0},{"sample":"First synthesis","kind":"curve","theta":10.6,"intensity":0},{"sample":"First synthesis","kind":"curve","theta":10.7,"intensity":0.02},{"sample":"First synthesis","kind":"curve","theta":10.8,"intensity":0},{"sample":"First synthesis","kind":"curve","theta":11.3,"intensity":0},{"sample":"First synthesis","kind":"curve","theta":11.4,"intensity":0.005},{"sample":"First synthesis","kind":"curve","theta":11.5,"intensity":0},{"sample":"First synthesis","kind":"curve","theta":12.3,"intensity":0},{"sample":"First synthesis","kind":"curve","theta":12.4,"intensity":0.005},{"sample":"First synthesis","kind":"curve","theta":12.5,"intensity":0},{"sample":"First synthesis","kind":"curve","theta":15.6,"intensity":0},{"sample":"First synthesis","kind":"curve","theta":15.7,"intensity":0.005},{"sample":"First synthesis","kind":"curve","theta":15.8,"intensity":0},{"sample":"First synthesis","kind":"curve","theta":19.7,"intensity":0},{"sample":"First synthesis","kind":"curve","theta":19.85,"intensity":0.86},{"sample":"First synthesis","kind":"curve","theta":19.95,"intensity":0.75},{"sample":"First synthesis","kind":"curve","theta":20.05,"intensity":0.83},{"sample":"First synthesis","kind":"curve","theta":20.2,"intensity":0.2},{"sample":"First synthesis","kind":"curve","theta":20.35,"intensity":0.05},{"sample":"First synthesis","kind":"curve","theta":20.5,"intensity":0.08},{"sample":"First synthesis","kind":"curve","theta":20.62,"intensity":0.31},{"sample":"First synthesis","kind":"curve","theta":20.75,"intensity":0.05},{"sample":"First synthesis","kind":"curve","theta":20.9,"intensity":0.04},{"sample":"First synthesis","kind":"curve","theta":21.05,"intensity":0.09},{"sample":"First synthesis","kind":"curve","theta":21.15,"intensity":0.02},{"sample":"First synthesis","kind":"curve","theta":21.3,"intensity":0.08},{"sample":"First synthesis","kind":"curve","theta":21.45,"intensity":0},{"sample":"First synthesis","kind":"curve","theta":23.55,"intensity":0},{"sample":"First synthesis","kind":"curve","theta":23.7,"intensity":0.11},{"sample":"First synthesis","kind":"curve","theta":23.85,"intensity":0},{"sample":"First synthesis","kind":"curve","theta":24.9,"intensity":0},{"sample":"First synthesis","kind":"curve","theta":25.0,"intensity":0.03},{"sample":"First synthesis","kind":"curve","theta":25.15,"intensity":0},{"sample":"First synthesis","kind":"curve","theta":26.45,"intensity":0},{"sample":"First synthesis","kind":"curve","theta":26.6,"intensity":0.17},{"sample":"First synthesis","kind":"curve","theta":26.72,"intensity":0.04},{"sample":"First synthesis","kind":"curve","theta":26.85,"intensity":0.12},{"sample":"First synthesis","kind":"curve","theta":27.0,"intensity":0.2},{"sample":"First synthesis","kind":"curve","theta":27.1,"intensity":0.35},{"sample":"First synthesis","kind":"curve","theta":27.25,"intensity":0.15},{"sample":"First synthesis","kind":"curve","theta":27.4,"intensity":0.21},{"sample":"First synthesis","kind":"curve","theta":27.55,"intensity":0},{"sample":"First synthesis","kind":"curve","theta":29.45,"intensity":0},{"sample":"First synthesis","kind":"curve","theta":29.6,"intensity":0.09},{"sample":"First synthesis","kind":"curve","theta":29.75,"intensity":0},{"sample":"First synthesis","kind":"curve","theta":30.1,"intensity":0},{"sample":"First synthesis","kind":"curve","theta":30.25,"intensity":0.13},{"sample":"First synthesis","kind":"curve","theta":30.4,"intensity":0},{"sample":"First synthesis","kind":"curve","theta":31.5,"intensity":0},{"sample":"First synthesis","kind":"curve","theta":31.65,"intensity":0.06},{"sample":"First synthesis","kind":"curve","theta":31.8,"intensity":0.03},{"sample":"First synthesis","kind":"curve","theta":32.1,"intensity":0.08},{"sample":"First synthesis","kind":"curve","theta":32.25,"intensity":0},{"sample":"First synthesis","kind":"curve","theta":32.75,"intensity":0},{"sample":"First synthesis","kind":"curve","theta":32.9,"intensity":0.07},{"sample":"First synthesis","kind":"curve","theta":33.05,"intensity":0},{"sample":"First synthesis","kind":"curve","theta":34.3,"intensity":0},{"sample":"First synthesis","kind":"curve","theta":34.45,"intensity":0.11},{"sample":"First synthesis","kind":"curve","theta":34.6,"intensity":0.01},{"sample":"First synthesis","kind":"curve","theta":34.75,"intensity":0.04},{"sample":"First synthesis","kind":"curve","theta":34.9,"intensity":0.07},{"sample":"First synthesis","kind":"curve","theta":35.05,"intensity":0.01},{"sample":"First synthesis","kind":"curve","theta":35.3,"intensity":0.03},{"sample":"First synthesis","kind":"curve","theta":35.5,"intensity":0.06},{"sample":"First synthesis","kind":"curve","theta":35.65,"intensity":0},{"sample":"First synthesis","kind":"curve","theta":36.1,"intensity":0},{"sample":"First synthesis","kind":"curve","theta":36.25,"intensity":0.07},{"sample":"First synthesis","kind":"curve","theta":36.4,"intensity":0},{"sample":"First synthesis","kind":"curve","theta":37.8,"intensity":0},{"sample":"First synthesis","kind":"curve","theta":37.9,"intensity":0.01},{"sample":"First synthesis","kind":"curve","theta":38.0,"intensity":0},{"sample":"First synthesis","kind":"curve","theta":39.7,"intensity":0},{"sample":"First synthesis","kind":"curve","theta":39.8,"intensity":0.02},{"sample":"First synthesis","kind":"curve","theta":39.9,"intensity":0},{"sample":"First synthesis","kind":"curve","theta":40.4,"intensity":0},{"sample":"First synthesis","kind":"curve","theta":40.5,"intensity":0.02},{"sample":"First synthesis","kind":"curve","theta":40.6,"intensity":0},{"sample":"First synthesis","kind":"curve","theta":40.95,"intensity":0},{"sample":"First synthesis","kind":"curve","theta":41.1,"intensity":0.06},{"sample":"First synthesis","kind":"curve","theta":41.25,"intensity":0},{"sample":"First synthesis","kind":"curve","theta":42.75,"intensity":0},{"sample":"First synthesis","kind":"curve","theta":42.85,"intensity":0.03},{"sample":"First synthesis","kind":"curve","theta":42.95,"intensity":0},{"sample":"First synthesis","kind":"curve","theta":44.7,"intensity":0},{"sample":"First synthesis","kind":"curve","theta":44.8,"intensity":0.01},{"sample":"First synthesis","kind":"curve","theta":44.9,"intensity":0},{"sample":"First synthesis","kind":"curve","theta":45.15,"intensity":0},{"sample":"First synthesis","kind":"curve","theta":45.3,"intensity":0.09},{"sample":"First synthesis","kind":"curve","theta":45.45,"intensity":0.01},{"sample":"First synthesis","kind":"curve","theta":45.8,"intensity":0.02},{"sample":"First synthesis","kind":"curve","theta":46.0,"intensity":0.05},{"sample":"First synthesis","kind":"curve","theta":46.15,"intensity":0.02},{"sample":"First synthesis","kind":"curve","theta":46.35,"intensity":0.04},{"sample":"First synthesis","kind":"curve","theta":46.6,"intensity":0.04},{"sample":"First synthesis","kind":"curve","theta":46.75,"intensity":0},{"sample":"First synthesis","kind":"curve","theta":48.2,"intensity":0},{"sample":"First synthesis","kind":"curve","theta":48.35,"intensity":0.06},{"sample":"First synthesis","kind":"curve","theta":48.5,"intensity":0},{"sample":"First synthesis","kind":"curve","theta":49.7,"intensity":0},{"sample":"First synthesis","kind":"curve","theta":49.8,"intensity":0.02},{"sample":"First synthesis","kind":"curve","theta":49.9,"intensity":0},{"sample":"First synthesis","kind":"curve","theta":50.0,"intensity":0},
{"sample":"Sigma-2","kind":"stick","theta":10.28,"intensity":0.13},{"sample":"Sigma-2","kind":"stick","theta":11.62,"intensity":0.07},{"sample":"Sigma-2","kind":"stick","theta":13.36,"intensity":0.04},{"sample":"Sigma-2","kind":"stick","theta":15.55,"intensity":0.03},{"sample":"Sigma-2","kind":"stick","theta":17.5,"intensity":0.01},{"sample":"Sigma-2","kind":"stick","theta":17.98,"intensity":0.01},{"sample":"Sigma-2","kind":"stick","theta":19.58,"intensity":0.85},{"sample":"Sigma-2","kind":"stick","theta":19.75,"intensity":0.85},{"sample":"Sigma-2","kind":"stick","theta":20.22,"intensity":0.3},{"sample":"Sigma-2","kind":"stick","theta":20.7,"intensity":0.09},{"sample":"Sigma-2","kind":"stick","theta":20.92,"intensity":0.07},{"sample":"Sigma-2","kind":"stick","theta":21.0,"intensity":0.05},{"sample":"Sigma-2","kind":"stick","theta":23.36,"intensity":0.1},{"sample":"Sigma-2","kind":"stick","theta":24.62,"intensity":0.04},{"sample":"Sigma-2","kind":"stick","theta":24.93,"intensity":0.02},{"sample":"Sigma-2","kind":"stick","theta":26.27,"intensity":0.18},{"sample":"Sigma-2","kind":"stick","theta":26.75,"intensity":0.39},{"sample":"Sigma-2","kind":"stick","theta":27.1,"intensity":0.21},{"sample":"Sigma-2","kind":"stick","theta":27.25,"intensity":0.05},{"sample":"Sigma-2","kind":"stick","theta":27.4,"intensity":0.02},{"sample":"Sigma-2","kind":"stick","theta":28.07,"intensity":0.01},{"sample":"Sigma-2","kind":"stick","theta":29.27,"intensity":0.09},{"sample":"Sigma-2","kind":"stick","theta":29.5,"intensity":0.03},{"sample":"Sigma-2","kind":"stick","theta":29.89,"intensity":0.13},{"sample":"Sigma-2","kind":"stick","theta":31.2,"intensity":0.02},{"sample":"Sigma-2","kind":"stick","theta":31.29,"intensity":0.03},{"sample":"Sigma-2","kind":"stick","theta":31.55,"intensity":0.03},{"sample":"Sigma-2","kind":"stick","theta":31.71,"intensity":0.05},{"sample":"Sigma-2","kind":"stick","theta":31.8,"intensity":0.05},{"sample":"Sigma-2","kind":"stick","theta":31.9,"intensity":0.04},{"sample":"Sigma-2","kind":"stick","theta":32.0,"intensity":0.02},{"sample":"Sigma-2","kind":"stick","theta":32.55,"intensity":0.08},{"sample":"Sigma-2","kind":"stick","theta":34.23,"intensity":0.1},{"sample":"Sigma-2","kind":"stick","theta":34.8,"intensity":0.05},{"sample":"Sigma-2","kind":"stick","theta":35.07,"intensity":0.04},{"sample":"Sigma-2","kind":"stick","theta":35.97,"intensity":0.08},{"sample":"Sigma-2","kind":"stick","theta":38.3,"intensity":0.01},{"sample":"Sigma-2","kind":"stick","theta":39.4,"intensity":0.02},{"sample":"Sigma-2","kind":"stick","theta":40.25,"intensity":0.02},{"sample":"Sigma-2","kind":"stick","theta":40.73,"intensity":0.04},{"sample":"Sigma-2","kind":"stick","theta":43.5,"intensity":0.01},{"sample":"Sigma-2","kind":"stick","theta":45.0,"intensity":0.06},{"sample":"Sigma-2","kind":"stick","theta":45.7,"intensity":0.02},{"sample":"Sigma-2","kind":"stick","theta":45.9,"intensity":0.02},{"sample":"Sigma-2","kind":"stick","theta":46.3,"intensity":0.015},{"sample":"Sigma-2","kind":"stick","theta":47.0,"intensity":0.01},{"sample":"Sigma-2","kind":"stick","theta":48.0,"intensity":0.06},{"sample":"Sigma-2","kind":"stick","theta":49.36,"intensity":0.02}
]},
"facet": {"row": {"field": "sample", "type": "nominal", "title": "Intensity (a.u.)",
  "sort": ["DD3R", "KOH @ HT", "KOH @ RT", "HF @ RT", "NaOH @ HT", "First synthesis", "Sigma-2"],
  "header": {"labels": false, "titleFont": "Liberation Serif", "titleFontSize": 27, "titleFontWeight": "bold", "titleColor": "black", "titlePadding": 16}}},
"spacing": 0,
"bounds": "flush",
"spec": {
 "width": 476, "height": 100,
 "resolve": {"axis": {"x": "independent", "y": "independent"}},
 "layer": [
  {"transform": [{"filter": "datum.kind == 'curve'"}],
   "mark": {"type": "line", "color": "black", "strokeWidth": 1.6},
   "encoding": {
    "x": {"field": "theta", "type": "quantitative", "scale": {"domain": [10, 50], "nice": false},
      "axis": {"orient": "bottom", "values": [10,15,20,25,30,35,40,45,50], "tickSize": 10, "labelPadding": 6, "title": "2θ / °", "titlePadding": 14}},
    "y": {"field": "intensity", "type": "quantitative", "scale": {"domain": [0, 1], "nice": false},
      "axis": {"orient": "left", "ticks": false, "labels": false, "title": null}}}},
  {"transform": [{"filter": "datum.kind == 'stick'"}],
   "mark": {"type": "rule", "color": "black", "strokeWidth": 1.5},
   "encoding": {
    "x": {"field": "theta", "type": "quantitative",
      "axis": {"orient": "top", "values": [10,15,20,25,30,35,40,45,50], "tickSize": 10, "labelPadding": 7, "title": null}},
    "y": {"field": "intensity", "type": "quantitative",
      "axis": {"orient": "right", "ticks": false, "labels": false, "title": null}},
    "y2": {"datum": 0}}},
  {"transform": [{"filter": "datum.kind == 'label'"}],
   "mark": {"type": "text", "align": "right", "baseline": "alphabetic", "font": "Liberation Serif", "fontSize": 24, "fontWeight": "bold", "color": "black"},
   "encoding": {
    "x": {"datum": 48.5, "type": "quantitative",
      "axis": {"orient": "bottom", "values": [12.5,17.5,22.5,27.5,32.5,37.5,42.5,47.5], "tickSize": 5, "labels": false, "domain": false, "title": null}},
    "y": {"datum": 0.16, "type": "quantitative", "axis": null},
    "text": {"field": "sample"}}},
  {"transform": [{"filter": "datum.kind == 'none'"}],
   "mark": {"type": "rule", "color": "black"},
   "encoding": {
    "x": {"field": "theta", "type": "quantitative",
      "axis": {"orient": "top", "values": [12.5,17.5,22.5,27.5,32.5,37.5,42.5,47.5], "tickSize": 5, "labels": false, "domain": false, "title": null}}}}
 ]}
}
